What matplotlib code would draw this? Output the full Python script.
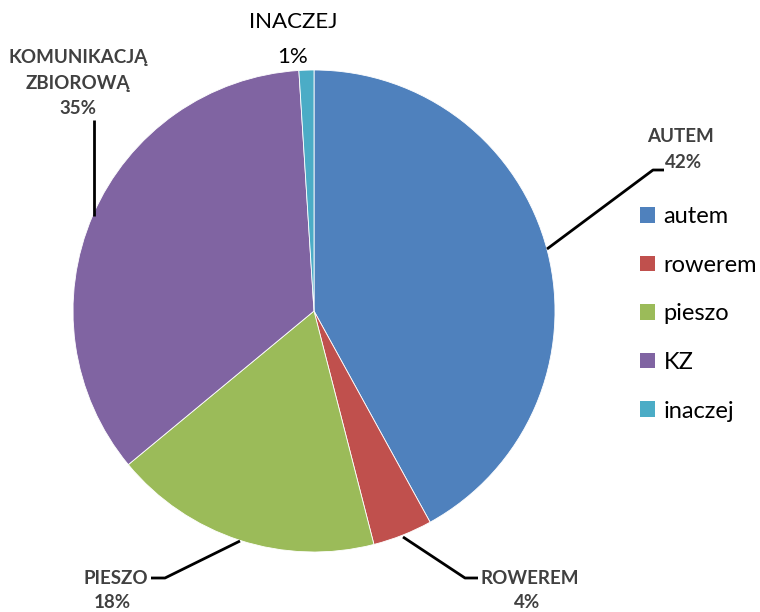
import matplotlib
matplotlib.use("Agg")
import matplotlib.pyplot as plt
import numpy as np

categories = ["autem", "rowerem", "pieszo", "KZ", "inaczej"]
values = [42, 4, 18, 35, 1]
label_names = ["AUTEM", "ROWEREM", "PIESZO", "KOMUNIKACJĄ\nZBIOROWĄ", "INACZEJ"]
colors = ["#4F81BD", "#C0504D", "#9BBB59", "#8064A2", "#4BACC6"]

plt.rcParams['font.family'] = ['Lato', 'DejaVu Sans']

W, H = 760, 612
fig = plt.figure(figsize=(W / 100, H / 100), dpi=100)
ax = fig.add_axes([0, 0, 1, 1])

cx, cy, r = 314, H - 311, 241
wedges, _ = ax.pie(values, colors=colors, startangle=90, counterclock=False,
                   center=(cx, cy), radius=r, frame=True,
                   wedgeprops=dict(edgecolor='white', linewidth=0.6))
ax.set_xlim(0, W)
ax.set_ylim(0, H)
ax.set_aspect('equal')
ax.axis('off')

lab_color = "#404040"
bold_fs = 13.5

def P(x, y):
    return (x, H - y)

def lbl(x, y, s, ha='center', fs=bold_fs, weight='bold', color=lab_color):
    ax.text(*P(x, y), s, ha=ha, va='center', fontsize=fs, fontweight=weight, color=color)

lw = 2.0
# AUTEM
ax.plot(*zip(P(547, 249), P(653, 170), P(664, 170)), color='black', lw=lw, solid_capstyle='butt')
lbl(680, 137, label_names[0])
lbl(684, 163, f"{values[0]}%")

# ROWEREM
ax.plot(*zip(P(403, 537), P(465, 578), P(478, 578)), color='black', lw=lw, solid_capstyle='butt')
lbl(481, 578, label_names[1], ha='left')
lbl(527, 602, f"{values[1]}%")

# PIESZO
ax.plot(*zip(P(240, 541), P(165, 578), P(151, 578)), color='black', lw=lw, solid_capstyle='butt')
lbl(148, 578, label_names[2], ha='right')
lbl(112, 602, f"{values[2]}%")

# KZ
ax.plot(*zip(P(94, 120), P(94, 216)), color='black', lw=lw, solid_capstyle='butt')
lbl(78, 57, "KOMUNIKACJĄ")
lbl(78, 83, "ZBIOROWĄ")
lbl(78, 108, f"{values[3]}%")

# INACZEJ
lbl(293, 22, label_names[4], fs=16, weight='normal', color='black')
lbl(293, 57, f"{values[4]}%", fs=16, weight='normal', color='black')

leg = ax.legend(wedges, categories, loc='upper left', bbox_to_anchor=(640 / W, 1 - 206 / H),
                frameon=False, fontsize=17, handlelength=0.64, handleheight=0.64,
                handletextpad=0.35, labelspacing=1.17, borderpad=0, borderaxespad=0)
for h in leg.legend_handles:
    h.set_edgecolor('none')

fig.savefig("out.png", dpi=100)
